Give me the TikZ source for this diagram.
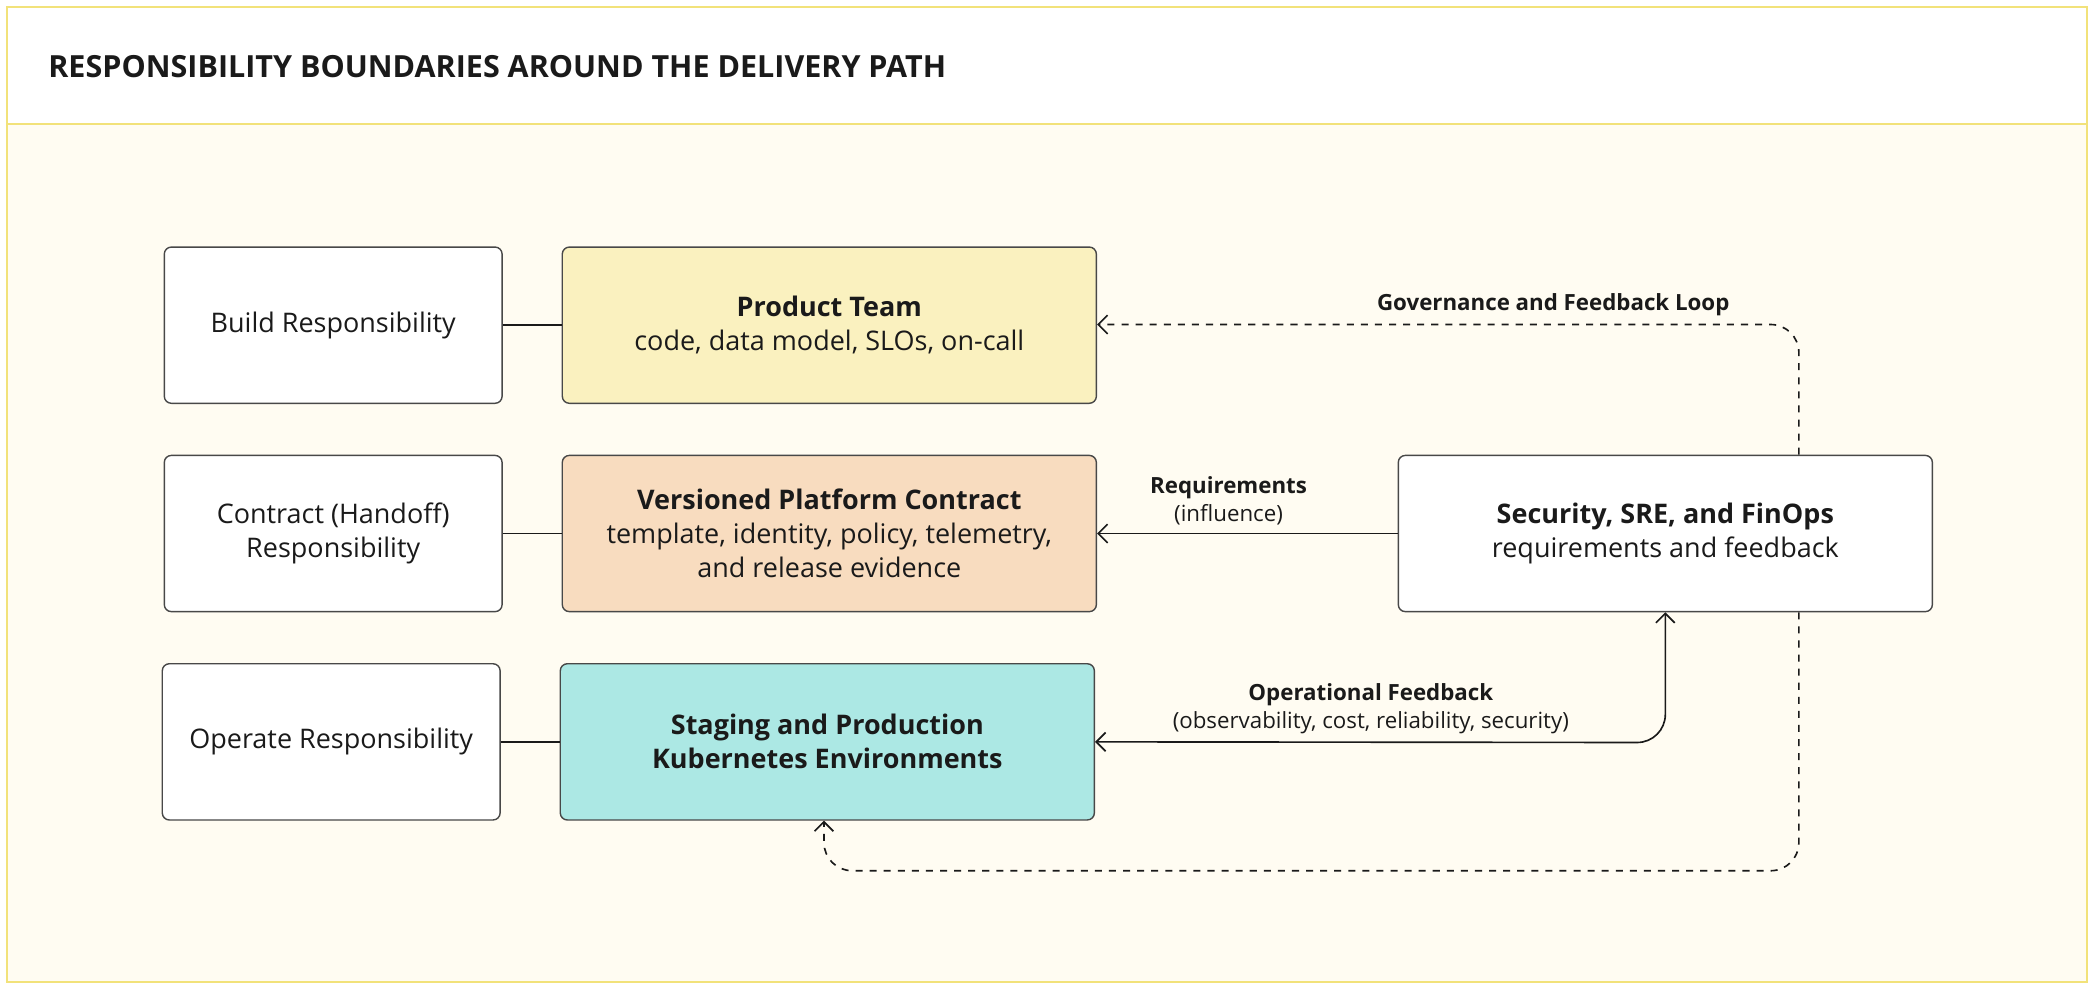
\documentclass[tikz,border=0pt]{standalone}
\usepackage{fontspec}
\setmainfont{Open Sans}
\usetikzlibrary{arrows.meta}
\definecolor{frameline}{HTML}{F2E27A}
\definecolor{bodyfill}{HTML}{FFFCF2}
\definecolor{teamfill}{HTML}{FAF1BF}
\definecolor{contractfill}{HTML}{F8DCBF}
\definecolor{envfill}{HTML}{ACE8E4}
\definecolor{ink}{HTML}{1A1A1A}
\tikzset{
  box/.style={draw=ink!80, rounded corners=3pt, align=center, font=\fontsize{11.5}{14.5}\selectfont, text=ink, line width=0.6pt},
  lbl/.style={align=center, font=\fontsize{9.5}{12}\selectfont, text=ink},
  link/.style={draw=ink, line width=0.7pt},
  flow/.style={link, -{Straight Barb[length=4pt,width=8pt]}},
}
\begin{document}
\begin{tikzpicture}[x=0.02cm, y=-0.02cm]
\useasboundingbox (0,0) rectangle (1568,740);
% frame
\fill[bodyfill] (5,93) rectangle (1563,735);
\draw[frameline, line width=0.8pt] (5,5) rectangle (1563,735);
\draw[frameline, line width=0.8pt] (5,93) -- (1563,93);
\node[anchor=west, font=\fontsize{13}{15}\bfseries\selectfont, text=ink] (title) at (30,50) {RESPONSIBILITY BOUNDARIES AROUND THE DELIVERY PATH};

% left column
\begin{scope}
    \node[box, fill=white, minimum width=5.06cm, minimum height=2.34cm] (build) at (249.5,243.5) {Build Responsibility};
    \node[box, fill=white, minimum width=5.06cm, minimum height=2.34cm] (handoff) at (249.5,399.5) {Contract (Handoff)\\Responsibility};
    \node[box, fill=white, minimum width=5.06cm, minimum height=2.34cm] (operate) at (248,555.5) {Operate Responsibility};
\end{scope}

% middle column
\begin{scope}
    \node[box, fill=teamfill, minimum width=8cm, minimum height=2.34cm] (team) at (621,243.5) {\textbf{Product Team}\\code, data model, SLOs, on-call};
    \node[box, fill=contractfill, minimum width=8cm, minimum height=2.34cm] (contract) at (621,399.5) {\textbf{Versioned Platform Contract}\\template, identity, policy, telemetry,\\and release evidence};
    \node[box, fill=envfill, minimum width=8cm, minimum height=2.34cm] (env) at (619.5,555.5) {\textbf{Staging and Production}\\\textbf{Kubernetes Environments}};
    \node[box, fill=white, minimum width=8cm, minimum height=2.34cm] (ops) at (1247,399.5) {\textbf{Security, SRE, and FinOps}\\requirements and feedback};
\end{scope}

\coordinate (govtop) at (1347,243);
\coordinate (loopbot) at (1347,652);
\coordinate (loopleft) at (617,652);
\coordinate (feedturn) at (1247,556);

\begin{scope}
    \path[link] (build) edge (team);
    \path[link] (handoff) edge (contract);
    \path[link] (operate) edge (env);
    \draw[flow] (ops) -- node[lbl, above, pos=0.5, xshift=-8pt] {\textbf{Requirements}\\(influence)} (contract);
    \draw[flow, {Straight Barb[length=4pt,width=8pt]}-{Straight Barb[length=4pt,width=8pt]}, rounded corners=12pt]
        (env.east) -- node[lbl, above, pos=0.5, xshift=-4pt] {\textbf{Operational Feedback}\\(observability, cost, reliability, security)} (feedturn) -- (ops.south);
    \draw[flow, dashed, rounded corners=12pt] (ops.north -| govtop) -- (govtop) -- node[lbl, above, pos=0.35] {\textbf{Governance and Feedback Loop}} (team.east |- govtop);
    \draw[flow, dashed, rounded corners=12pt] (ops.south -| loopbot) -- (loopbot) -- (loopleft) -- (env.south -| loopleft);
\end{scope}
\end{tikzpicture}
\end{document}
